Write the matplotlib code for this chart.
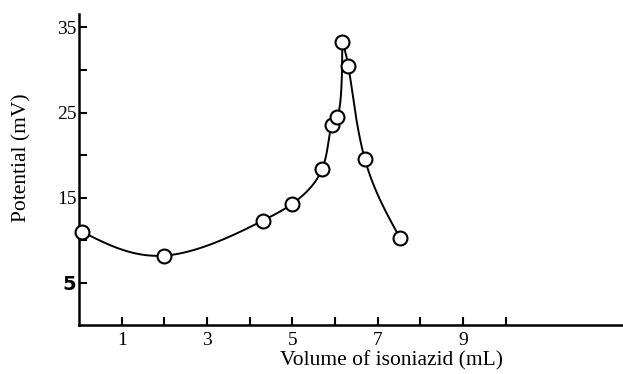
import numpy as np
import matplotlib
matplotlib.use("Agg")
import matplotlib.pyplot as plt

# Data (volume in mL, potential in mV)
volume = [0.07, 2.00, 4.30, 5.00, 5.70, 5.92, 6.05, 6.17, 6.31, 6.70, 7.52]
potential = [11.0, 8.2, 12.3, 14.3, 18.4, 23.5, 24.5, 33.3, 30.5, 19.5, 10.3]
peak_index = 7

x_ticks = [1, 2, 3, 4, 5, 6, 7, 8, 9, 10]
x_tick_labels = ["1", "", "3", "", "5", "", "7", "", "9", ""]
y_ticks = [5, 10, 15, 20, 25, 30, 35]
y_tick_labels = ["5", "", "15", "", "25", "", "35"]


def natural_spline_1d(t, y, tn):
    n = len(t)
    h = np.diff(t)
    A = np.zeros((n, n))
    r = np.zeros(n)
    A[0, 0] = A[-1, -1] = 1.0
    for i in range(1, n - 1):
        A[i, i - 1] = h[i - 1]
        A[i, i] = 2 * (h[i - 1] + h[i])
        A[i, i + 1] = h[i]
        r[i] = 3 * ((y[i + 1] - y[i]) / h[i] - (y[i] - y[i - 1]) / h[i - 1])
    c = np.linalg.solve(A, r)
    b = np.array([(y[i + 1] - y[i]) / h[i] - h[i] * (2 * c[i] + c[i + 1]) / 3
                  for i in range(n - 1)])
    d = np.array([(c[i + 1] - c[i]) / (3 * h[i]) for i in range(n - 1)])
    k = np.clip(np.searchsorted(t, tn) - 1, 0, n - 2)
    dt = tn - t[k]
    return y[k] + b[k] * dt + c[k] * dt**2 + d[k] * dt**3


def smooth_path(pts, num=500):
    """Parametric natural cubic spline (chord-length) through points."""
    pts = np.asarray(pts, float)
    seg = np.linalg.norm(np.diff(pts, axis=0), axis=1)
    t = np.concatenate([[0.0], np.cumsum(np.sqrt(seg))])
    tn = np.linspace(0, t[-1], num)
    return np.column_stack([natural_spline_1d(t, pts[:, 0], tn),
                            natural_spline_1d(t, pts[:, 1], tn)])


plt.rcParams["font.family"] = ["Liberation Serif", "DejaVu Serif"]

fig = plt.figure(figsize=(6.23, 3.74), dpi=100)
ax = fig.add_axes([0.127, 0.131, 0.873, 0.832])
ax.set_xlim(0.0, 12.75)
ax.set_ylim(0.05, 36.6)

data = np.column_stack([volume, potential])
to_disp = ax.transData
to_data = ax.transData.inverted()
for seg in (data[: peak_index + 1], data[peak_index:]):
    curve = to_data.transform(smooth_path(to_disp.transform(seg)))
    ax.plot(curve[:, 0], curve[:, 1], color="black", lw=1.4, zorder=2)

ax.plot(volume, potential, linestyle="none", marker="o", markersize=10,
        markerfacecolor="white", markeredgecolor="black", markeredgewidth=1.5,
        zorder=3, clip_on=False)

ax.set_xticks(x_ticks)
ax.set_xticklabels(x_tick_labels)
ax.set_yticks(y_ticks)
ax.set_yticklabels(y_tick_labels)
for lab in ax.get_yticklabels():
    if lab.get_text() == "5":
        lab.set_fontweight("bold")
        lab.set_family("DejaVu Sans")
        lab.set_fontsize(12)

ax.tick_params(direction="in", length=6, width=1.5, labelsize=14)
ax.tick_params(axis="x", pad=5)
ax.tick_params(axis="y", pad=2)
for s in ["top", "right"]:
    ax.spines[s].set_visible(False)
for s in ["left", "bottom"]:
    ax.spines[s].set_linewidth(1.8)

ax.set_xlabel("Volume of isoniazid (mL)", fontsize=15.5)
ax.set_ylabel("Potential (mV)", fontsize=15.5)
ax.xaxis.set_label_coords(0.575, -0.085)
ax.yaxis.set_label_coords(-0.088, 0.537)

fig.savefig("out.png", dpi=100)
